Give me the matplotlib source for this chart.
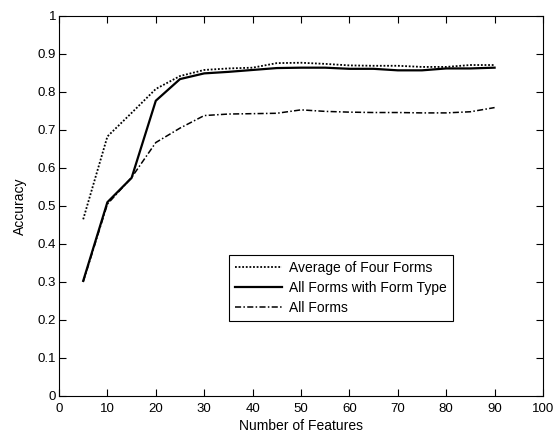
import matplotlib
matplotlib.use("Agg")
import matplotlib.pyplot as plt

plt.rcParams['font.family'] = ['Liberation Sans', 'DejaVu Sans']

features = [5, 10, 15, 20, 25, 30, 35, 40, 45, 50, 55, 60, 65, 70, 75, 80, 85, 90]
avg_four = [0.465, 0.683, 0.745, 0.808, 0.842, 0.858, 0.862, 0.864, 0.876, 0.877,
            0.874, 0.870, 0.869, 0.869, 0.866, 0.866, 0.871, 0.871]
with_type = [0.303, 0.510, 0.574, 0.777, 0.834, 0.849, 0.853, 0.858, 0.863, 0.864,
             0.864, 0.861, 0.861, 0.857, 0.857, 0.862, 0.862, 0.864]
all_forms = [0.300, 0.505, 0.575, 0.667, 0.705, 0.738, 0.742, 0.743, 0.744, 0.753,
             0.749, 0.747, 0.746, 0.746, 0.745, 0.745, 0.748, 0.759]
labels = ['Average of Four Forms', 'All Forms with Form Type', 'All Forms']
xticks = [0, 10, 20, 30, 40, 50, 60, 70, 80, 90, 100]
yticks = [0, 0.1, 0.2, 0.3, 0.4, 0.5, 0.6, 0.7, 0.8, 0.9, 1]

fig = plt.figure(figsize=(5.53, 4.37), dpi=100)
ax = fig.add_axes([59/553, 41/437, 484/553, 380/437])

ax.plot(features, avg_four, color='black', linestyle=(0, (1, 1)), linewidth=1.3, label=labels[0])
ax.plot(features, with_type, color='black', linestyle='-', linewidth=1.6, label=labels[1])
ax.plot(features, all_forms, color='black', linestyle=(0, (4, 1.5, 1, 1.5)), linewidth=1.1, label=labels[2])

ax.set_xlim(0, 100)
ax.set_ylim(0, 1)
ax.set_xticks(xticks)
ax.set_yticks(yticks)
ax.set_yticklabels(['0', '0.1', '0.2', '0.3', '0.4', '0.5', '0.6', '0.7', '0.8', '0.9', '1'])
ax.tick_params(direction='in', top=True, right=True, labelsize=9.5, length=5, width=0.8, pad=2)
ax.tick_params(axis='x', pad=5)
for s in ax.spines.values():
    s.set_linewidth(0.8)
ax.set_xlabel('Number of Features', fontsize=10, labelpad=3)
ax.set_ylabel('Accuracy', fontsize=10, labelpad=8)

leg = ax.legend(loc='lower left', bbox_to_anchor=(0.351, 0.197), fontsize=10,
                fancybox=False, edgecolor='black', framealpha=1,
                handlelength=3.4, borderpad=0.45, labelspacing=0.42, handletextpad=0.45,
                borderaxespad=0)
leg.get_frame().set_linewidth(0.8)

fig.savefig('out.png', dpi=100)
